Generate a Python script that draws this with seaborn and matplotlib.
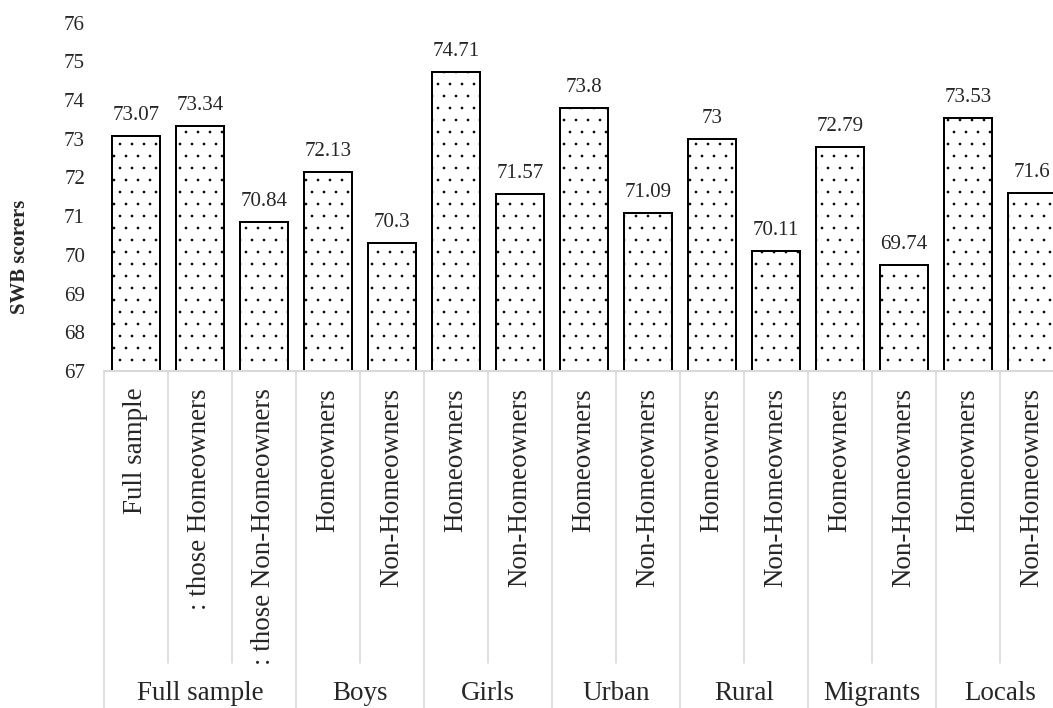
import numpy as np
import pandas as pd
import seaborn as sns
import matplotlib.pyplot as plt
import matplotlib.transforms as mtransforms

# bar labels (bottom row is the group)
inner_labels = ["Full sample", ": those Homeowners", ": those Non-Homeowners",
                "Homeowners", "Non-Homeowners",
                "Homeowners", "Non-Homeowners",
                "Homeowners", "Non-Homeowners",
                "Homeowners", "Non-Homeowners",
                "Homeowners", "Non-Homeowners",
                "Homeowners", "Non-Homeowners"]
scores = [73.07, 73.34, 70.84, 72.13, 70.3, 74.71, 71.57, 73.8, 71.09,
          73.0, 70.11, 72.79, 69.74, 73.53, 71.6]
groups = ["Full sample", "Boys", "Girls", "Urban", "Rural", "Migrants", "Locals"]
group_sizes = [3, 2, 2, 2, 2, 2, 2]
y_ticks = [67, 68, 69, 70, 71, 72, 73, 74, 75, 76]

sns.set_style("white")
plt.rcParams["font.family"] = ["Liberation Serif", "DejaVu Serif"]
plt.rcParams["hatch.color"] = "black"
plt.rcParams["hatch.linewidth"] = 0.1

W, H, DPI = 1053, 708, 144
fig = plt.figure(figsize=(W / DPI, H / DPI), dpi=DPI)
ax = fig.add_axes([104 / W, (H - 371) / H, 960 / W, 348.5 / H])

df = pd.DataFrame({"slot": [str(i) for i in range(len(scores))], "score": scores})
sns.barplot(data=df, x="slot", y="score", color="white", saturation=1,
            edgecolor="black", linewidth=1.0, width=0.74, hatch="..",
            errorbar=None, ax=ax)

ax.set_ylim(67, 76)
ax.set_xlim(-0.5, len(scores) - 0.5)
ax.set_yticks(y_ticks)
ax.set_yticklabels([str(t) for t in y_ticks], fontsize=10.5)
ax.tick_params(axis="y", length=0, pad=9.5)
ax.set_xticks(range(len(scores)))
ax.set_xticklabels(inner_labels, rotation=90, fontsize=13.5)
ax.tick_params(axis="x", length=0, pad=8.5)
ax.set_xlabel("")
ax.set_ylabel("")

for side in ["left", "right", "top"]:
    ax.spines[side].set_visible(False)
ax.spines["bottom"].set_color("#d9d9d9")
ax.spines["bottom"].set_linewidth(1.0)

# value labels
for i, v in enumerate(scores):
    ax.annotate(f"{v:g}", (i, v), xytext=(0, 8), textcoords="offset points",
                ha="center", va="baseline", fontsize=10.5)

# category separators
trans = mtransforms.blended_transform_factory(ax.transData, ax.transAxes)
bounds = np.cumsum([0] + group_sizes)
for k in range(len(scores) + 1):
    y_end = -1.0 if k in bounds else -0.838
    ax.plot([k - 0.5, k - 0.5], [0, y_end], color="#d9d9d9", lw=0.8,
            transform=trans, clip_on=False)

# group labels
for name, start, size in zip(groups, bounds[:-1], group_sizes):
    ax.text(start + (size - 1) / 2, -0.924, name, transform=trans,
            ha="center", va="center", fontsize=13.5)

fig.text(20.5 / W, 1 - 257 / H, "SWB scorers", rotation=90, ha="center",
         va="center", fontsize=10.4, fontweight="bold")

fig.savefig("out.png", dpi=DPI)
